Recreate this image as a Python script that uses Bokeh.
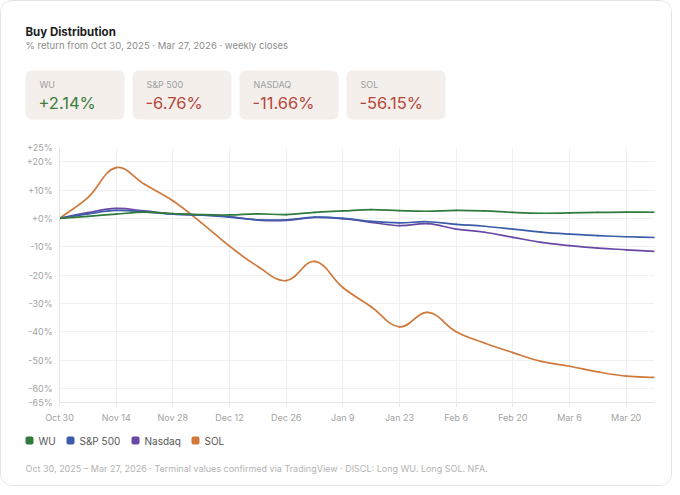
import math
from bokeh.plotting import figure
from bokeh.models import Range1d, FixedTicker, BoxAnnotation
from bokeh.layouts import column
from bokeh.embed import file_html
from bokeh.resources import INLINE
from bokeh.core.properties import value

# ---------------- data ----------------
dates = ["Oct 30", "Nov 7", "Nov 14", "Nov 21", "Nov 28", "Dec 5", "Dec 12", "Dec 19",
         "Dec 26", "Jan 2", "Jan 9", "Jan 16", "Jan 23", "Jan 30", "Feb 6", "Feb 13",
         "Feb 20", "Feb 27", "Mar 6", "Mar 13", "Mar 20", "Mar 27"]
wu = [0, 0.7, 1.5, 2.2, 1.7, 1.3, 1.2, 1.6, 1.3, 2.1, 2.6, 3.1, 2.7, 2.5, 2.8, 2.6,
      2.1, 1.8, 1.9, 2.1, 2.2, 2.14]
spx = [0, 1.6, 2.8, 2.3, 1.5, 1.1, 0.4, -0.5, -0.5, 0.4, 0.0, -1.1, -1.6, -1.2, -2.1,
       -2.8, -3.8, -4.9, -5.6, -6.1, -6.5, -6.76]
ndq = [0, 2.0, 3.5, 2.6, 1.5, 1.2, 0.6, -0.6, -0.7, 0.3, -0.1, -1.4, -2.6, -1.9, -3.8,
       -4.9, -6.7, -8.5, -9.6, -10.5, -11.1, -11.66]
sol = [0, 7.3, 17.9, 12.0, 6.2, -1.5, -9.8, -17.0, -22.0, -15.2, -24.4, -31.2, -38.3,
       -33.2, -40.0, -44.0, -47.4, -50.5, -52.2, -54.2, -55.7, -56.15]
series_names = ["WU", "S&P 500", "Nasdaq", "SOL"]
card_labels = ["WU", "S&P 500", "NASDAQ", "SOL"]
y_ticks = [-65, -60, -50, -40, -30, -20, -10, 0, 10, 20, 25]
y_tick_labels = ["-65%", "-60%", "-50%", "-40%", "-30%", "-20%", "-10%", "+0%",
                 "+10%", "+20%", "+25%"]
x_tick_idx = list(range(0, 21, 2))
x_tick_labels = [dates[i] for i in x_tick_idx]
title = "Buy Distribution"
subtitle = "% return from Oct 30, 2025 \u00b7 Mar 27, 2026 \u00b7 weekly closes"
footer = ("Oct 30, 2025 \u2013 Mar 27, 2026  \u00b7  Terminal values confirmed via "
          "TradingView  \u00b7  DISCL: Long WU. Long SOL. NFA.")

# ---------------- style ----------------
FONT = "Inter"
colors = ["#2f7a3c", "#3b5ca8", "#6a48a6", "#cf7a3c"]
W = 670
HEADER_H, MAIN_H, FOOT_H = 134, 290, 60


def canvas(h):
    f = figure(width=W, height=h, x_range=Range1d(0, W), y_range=Range1d(h, 0),
               x_axis_type=None, y_axis_type=None, output_backend="svg",
               toolbar_location=None, min_border=0)
    f.grid.visible = False
    f.outline_line_color = None
    f.background_fill_color = "white"
    f.border_fill_color = "white"
    f.frame_align = False
    return f


def txt(f, x, y, s, size, color, bold=False):
    f.text(x=[x], y=[y], text=[s], text_font=value(FONT), text_font_size=size,
           text_color=color, text_baseline="middle", text_align="left",
           text_font_style="bold" if bold else "normal")


# ---------------- header ----------------
hdr = canvas(HEADER_H)
txt(hdr, 24, 30, title, "11.5px", "#1c1c1c", bold=True)
txt(hdr, 24, 44, subtitle, "9.5px", "#8c8c8c")
card_lefts = [24, 131, 238, 345]
card_w = 99
series = [wu, spx, ndq, sol]
for k, lab in enumerate(card_labels):
    left = card_lefts[k]
    hdr.add_layout(BoxAnnotation(left=left, right=left + card_w, top=69, bottom=118,
                                 fill_color="#f4efeb", fill_alpha=1, line_color=None,
                                 border_radius=6, level="underlay"))
    v = series[k][-1]
    txt(hdr, left + 14, 83, lab, "9px", "#9e9e9e")
    txt(hdr, left + 13, 101, f"{v:+.2f}%", "16.5px", "#3a7d3e" if v >= 0 else "#b4473a")

# ---------------- main chart ----------------
p = figure(width=W, height=MAIN_H, x_range=Range1d(0, 21), y_range=Range1d(-65, 25),
           output_backend="svg", toolbar_location=None,
           min_border_left=58, min_border_right=17, min_border_top=12,
           min_border_bottom=22)
p.outline_line_color = None
p.background_fill_color = "white"
p.border_fill_color = "white"
p.frame_align = False

xt = FixedTicker(ticks=x_tick_idx)
yt = FixedTicker(ticks=y_ticks)
p.xaxis.ticker = xt
p.yaxis.ticker = yt
p.xgrid.ticker = xt
p.ygrid.ticker = yt
p.xaxis.major_label_overrides = {i: l for i, l in zip(x_tick_idx, x_tick_labels)}
p.yaxis.major_label_overrides = {t: l for t, l in zip(y_ticks, y_tick_labels)}
for ax in (p.xaxis, p.yaxis):
    ax.axis_line_color = "#e4e4e4"
    ax.major_tick_line_color = "#e8e8e8"
    ax.minor_tick_line_color = None
    ax.major_tick_in = 0
    ax.major_label_text_font = FONT
    ax.major_label_text_font_size = "9px"
    ax.major_label_text_color = "#a3a3a3"
p.xaxis.major_tick_out = 4
p.xaxis.major_label_standoff = 5
p.yaxis.major_tick_out = 0
p.yaxis.major_label_standoff = 7
p.xgrid.grid_line_color = "#f0f0f0"
p.ygrid.grid_line_color = "#f0f0f0"

# smooth (Chart.js-style tension) curves built from the data points
SX, SY = 595 / 21, 256 / 90


def bezier_segments(ys, t=0.4):
    n = len(ys)
    pts = [(i * SX, y * SY) for i, y in enumerate(ys)]
    cprev, cnext = [], []
    for i in range(n):
        pv = pts[max(i - 1, 0)]
        cu = pts[i]
        nx = pts[min(i + 1, n - 1)]
        d01 = math.hypot(cu[0] - pv[0], cu[1] - pv[1])
        d12 = math.hypot(nx[0] - cu[0], nx[1] - cu[1])
        tot = d01 + d12
        s01 = d01 / tot if tot else 0
        s12 = d12 / tot if tot else 0
        fa, fb = t * s01, t * s12
        cprev.append((cu[0] - fa * (nx[0] - pv[0]), cu[1] - fa * (nx[1] - pv[1])))
        cnext.append((cu[0] + fb * (nx[0] - pv[0]), cu[1] + fb * (nx[1] - pv[1])))
    seg = dict(x0=[], y0=[], x1=[], y1=[], cx0=[], cy0=[], cx1=[], cy1=[])
    for i in range(n - 1):
        seg["x0"].append(i)
        seg["y0"].append(ys[i])
        seg["x1"].append(i + 1)
        seg["y1"].append(ys[i + 1])
        seg["cx0"].append(cnext[i][0] / SX)
        seg["cy0"].append(cnext[i][1] / SY)
        seg["cx1"].append(cprev[i + 1][0] / SX)
        seg["cy1"].append(cprev[i + 1][1] / SY)
    return seg


for k in reversed(range(len(series))):
    p.bezier(source=bezier_segments(series[k]), x0="x0", y0="y0", x1="x1", y1="y1",
             cx0="cx0", cy0="cy0", cx1="cx1", cy1="cy1",
             line_color=colors[k], line_width=1.7, line_cap="round")

# ---------------- footer ----------------
ft = canvas(FOOT_H)
leg_x = [24, 65, 130, 190]
for k, name in enumerate(series_names):
    x = leg_x[k]
    ft.add_layout(BoxAnnotation(left=x, right=x + 8, top=11, bottom=19,
                                fill_color=colors[k], fill_alpha=1, line_color=None,
                                border_radius=2, level="underlay"))
    txt(ft, x + 13, 15, name, "10px", "#555555")
txt(ft, 24, 43, footer, "9px", "#b3b3b3")

layout = column(hdr, p, ft, spacing=0,
                styles={"border": "1px solid #e3e3e3", "border-radius": "12px",
                        "overflow": "hidden"})

open("out.html", "w").write(file_html(layout, INLINE))
